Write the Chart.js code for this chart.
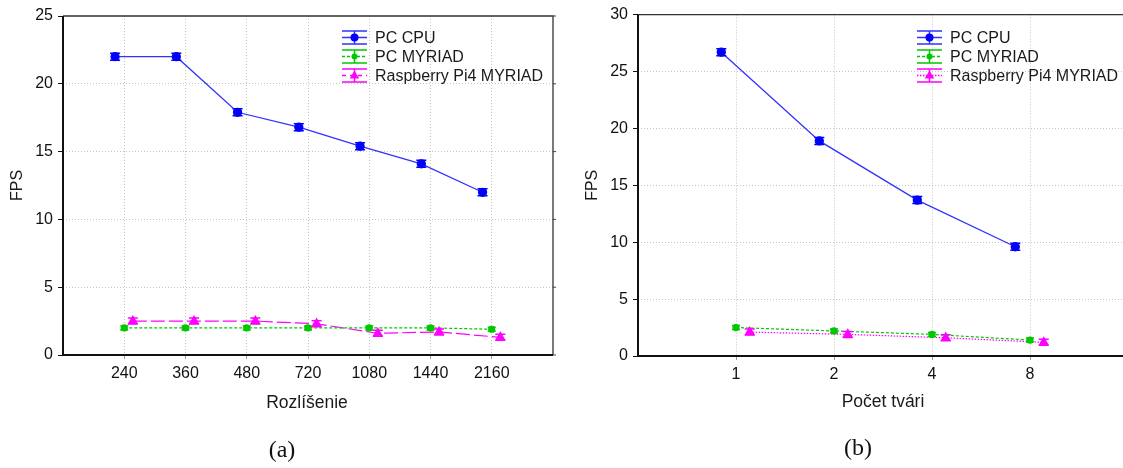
<!DOCTYPE html>
<html>
<head>
<meta charset="utf-8">
<script src="https://cdn.jsdelivr.net/npm/chart.js@4/dist/chart.umd.min.js"></script>
<style>
  html, body { margin: 0; padding: 0; background: #fff; overflow: hidden; width: 1123px; height: 468px; }
  body { position: relative; }
  canvas { position: absolute; top: 0; }
  .t { position: absolute; transform: translateX(-50%); white-space: nowrap; color: #1a1a1a; }
  .axt { font: 17.5px "Liberation Sans", Arial, sans-serif; }
  .cap { font: 24px "Liberation Serif", "DejaVu Serif", serif; color: #111; }
</style>
</head>
<body>
<canvas id="ca" width="570" height="400" style="left:0px"></canvas>
<canvas id="cb" width="658" height="400" style="left:575px"></canvas>
<div class="t axt" style="left:307px; top:392px">Rozlíšenie</div>
<div class="t axt" style="left:883px; top:391px">Počet tvári</div>
<div class="t cap" style="left:282px; top:436px">(a)</div>
<div class="t cap" style="left:858px; top:434px">(b)</div>
<script>
// ---- data ----
const seriesNames = ['PC CPU', 'PC MYRIAD', 'Raspberry Pi4 MYRIAD'];

const resLabels = ['240', '360', '480', '720', '1080', '1440', '2160'];
const resCpu    = [22.0, 22.0, 17.9, 16.8, 15.4, 14.1, 12.0];
const resMyriad = [2.0, 2.0, 2.0, 2.0, 2.0, 2.0, 1.9];
const resPi     = [2.5, 2.5, 2.5, 2.3, 1.6, 1.7, 1.3];

const faceLabels = ['1', '2', '4', '8'];
const faceCpu    = [26.7, 18.9, 13.7, 9.6];
const faceMyriad = [2.5, 2.2, 1.9, 1.4];
const facePi     = [2.1, 1.9, 1.6, 1.2];

const yMaxA = 25, yMaxB = 30, yStep = 5;

// ---- helpers ----
const FONT = '"Liberation Sans", Arial, sans-serif';
const BLUE = '#0000ff', BLUE_LINE = 'rgb(50,50,255)', GREEN = 'rgb(0,200,0)', MAG = '#ff00ff';
const OFF = [-0.15, 0, 0.14];

function pts(vals, k) { return vals.map((v, i) => ({ x: i + 1 + OFF[k], y: v })); }

function makeDatasets(cpu, myr, pi, piDash) {
  return [
    { label: seriesNames[0], data: pts(cpu, 0), borderColor: BLUE_LINE, backgroundColor: BLUE,
      pointBackgroundColor: BLUE, pointBorderColor: BLUE, borderWidth: 1.3, pointRadius: 4,
      pointStyle: 'circle', borderDash: [], capHalf: 5, capOff: 3.5, capColor: BLUE, mk: 'circle', mr: 4 },
    { label: seriesNames[1], data: pts(myr, 1), borderColor: GREEN, backgroundColor: GREEN,
      pointBackgroundColor: GREEN, pointBorderColor: GREEN, borderWidth: 1.2, pointRadius: 3,
      pointStyle: 'circle', borderDash: [3, 2], capHalf: 4, capOff: 2, capColor: GREEN, mk: 'circle', mr: 3 },
    { label: seriesNames[2], data: pts(pi, 2), borderColor: MAG, backgroundColor: MAG,
      pointBackgroundColor: MAG, pointBorderColor: MAG, borderWidth: 1.2, pointRadius: 5,
      pointStyle: 'triangle', borderDash: piDash, capHalf: 5, capOff: 3, capColor: MAG, mk: 'triangle', mr: 5 }
  ];
}

function drawMarker(ctx, kind, x, y, r, color) {
  ctx.save();
  ctx.fillStyle = color; ctx.strokeStyle = color; ctx.setLineDash([]);
  ctx.beginPath();
  if (kind === 'triangle') {
    ctx.moveTo(x, y - r); ctx.lineTo(x + r * 0.95, y + r * 0.6); ctx.lineTo(x - r * 0.95, y + r * 0.6); ctx.closePath();
  } else {
    ctx.arc(x, y, r, 0, Math.PI * 2);
  }
  ctx.fill();
  ctx.restore();
}

function framePlugin(openRight) {
  return {
    id: 'frame',
    afterDatasetsDraw(chart) {
      const ctx = chart.ctx;
      chart.data.datasets.forEach((ds, di) => {
        const meta = chart.getDatasetMeta(di);
        ctx.save();
        ctx.strokeStyle = ds.capColor; ctx.lineWidth = 1.5; ctx.setLineDash([]);
        meta.data.forEach(p => {
          ctx.beginPath();
          ctx.moveTo(p.x - ds.capHalf, p.y - ds.capOff); ctx.lineTo(p.x + ds.capHalf, p.y - ds.capOff);
          ctx.moveTo(p.x - ds.capHalf, p.y + ds.capOff); ctx.lineTo(p.x + ds.capHalf, p.y + ds.capOff);
          ctx.stroke();
        });
        ctx.restore();
      });
    },
    afterDraw(chart) {
      const ctx = chart.ctx, a = chart.chartArea;
      const rightEnd = openRight ? chart.width : a.right;
      ctx.save();
      ctx.setLineDash([]);
      ctx.strokeStyle = '#333'; ctx.lineWidth = 1.3;
      ctx.beginPath();
      ctx.moveTo(a.left, a.top); ctx.lineTo(rightEnd, a.top);
      if (!openRight) { ctx.lineTo(a.right, a.bottom); }
      ctx.stroke();
      ctx.strokeStyle = '#111'; ctx.lineWidth = 2;
      ctx.beginPath();
      ctx.moveTo(a.left, a.top); ctx.lineTo(a.left, a.bottom); ctx.lineTo(rightEnd, a.bottom);
      ctx.stroke();
      if (!openRight) {
        const ys = chart.scales.y;
        ctx.lineWidth = 1; ctx.strokeStyle = '#444';
        ys.ticks.forEach(t => {
          const yy = ys.getPixelForValue(t.value);
          ctx.beginPath(); ctx.moveTo(a.right, yy); ctx.lineTo(a.right + 3, yy); ctx.stroke();
        });
      }
      const lx0 = 342, lx1 = 367, tx = 375, ly0 = 37.5, dy = 19;
      chart.data.datasets.forEach((ds, i) => {
        const cy = ly0 + i * dy, cx = (lx0 + lx1) / 2;
        ctx.strokeStyle = ds.borderColor; ctx.lineWidth = 1.5; ctx.setLineDash([]);
        ctx.beginPath();
        ctx.moveTo(lx0, cy - 6.5); ctx.lineTo(lx1, cy - 6.5);
        ctx.moveTo(lx0, cy + 6.5); ctx.lineTo(lx1, cy + 6.5);
        ctx.moveTo(cx, cy - 6.5); ctx.lineTo(cx, cy + 6.5);
        ctx.stroke();
        ctx.setLineDash(ds.borderDash.length ? ds.borderDash.map(v => Math.min(v, 4)) : []);
        ctx.beginPath(); ctx.moveTo(lx0, cy); ctx.lineTo(lx1, cy); ctx.stroke();
        ctx.setLineDash([]);
        drawMarker(ctx, ds.mk, cx, cy, ds.mr, ds.pointBackgroundColor);
        ctx.fillStyle = '#1a1a1a';
        ctx.font = '16px ' + FONT;
        ctx.textBaseline = 'middle'; ctx.textAlign = 'left';
        ctx.fillText(ds.label, tx, cy + 1);
      });
      ctx.restore();
    }
  };
}

function makeChart(id, labels, datasets, xMax, yMax, padTop, padRight, xHeight, openRight) {
  const edge = (c, min, max) => (c.tick && (c.tick.value <= min || c.tick.value >= max)) ? 'rgba(0,0,0,0)' : '#c4c4c4';
  return new Chart(document.getElementById(id), {
    type: 'line',
    data: { datasets },
    options: {
      responsive: false,
      animation: false,
      devicePixelRatio: 1,
      layout: { padding: { top: padTop, right: padRight, left: 0, bottom: 0 } },
      plugins: { legend: { display: false }, tooltip: { enabled: false } },
      elements: { line: { tension: 0 } },
      scales: {
        x: {
          type: 'linear', min: 0, max: xMax,
          afterFit: s => { s.height = xHeight; },
          ticks: {
            stepSize: 1, autoSkip: false, maxRotation: 0, padding: 5,
            color: '#111', font: { family: FONT, size: 16 },
            callback: v => (Number.isInteger(v) && labels[v - 1] !== undefined) ? labels[v - 1] : ''
          },
          grid: {
            color: c => edge(c, 0, xMax), lineWidth: 1,
            tickLength: 4, tickColor: c => edge(c, 0, xMax) === '#c4c4c4' ? '#999' : 'rgba(0,0,0,0)'
          },
          border: { display: false, dash: [1, 2] }
        },
        y: {
          min: 0, max: yMax,
          afterFit: s => { s.width = 63; },
          ticks: { stepSize: yStep, padding: 5, color: '#111', font: { family: FONT, size: 16 } },
          grid: { color: c => edge(c, 0, yMax), lineWidth: 1, tickLength: 5, tickColor: '#111' },
          border: { display: false, dash: [1, 2] },
          title: { display: true, text: 'FPS', color: '#1a1a1a', font: { family: FONT, size: 16 }, padding: { top: 8, bottom: 0 } }
        }
      }
    },
    plugins: [framePlugin(openRight)]
  });
}

// left panel: 8 slots (7 categories); right panel: wider than the page, cut at its edge
makeChart('ca', resLabels, makeDatasets(resCpu, resMyriad, resPi, [14, 4]), 8, yMaxA, 16, 17, 45, false);
makeChart('cb', faceLabels, makeDatasets(faceCpu, faceMyriad, facePi, [1.5, 1.5]), 6, yMaxB, 13, 7, 44, true);
</script>
</body>
</html>
